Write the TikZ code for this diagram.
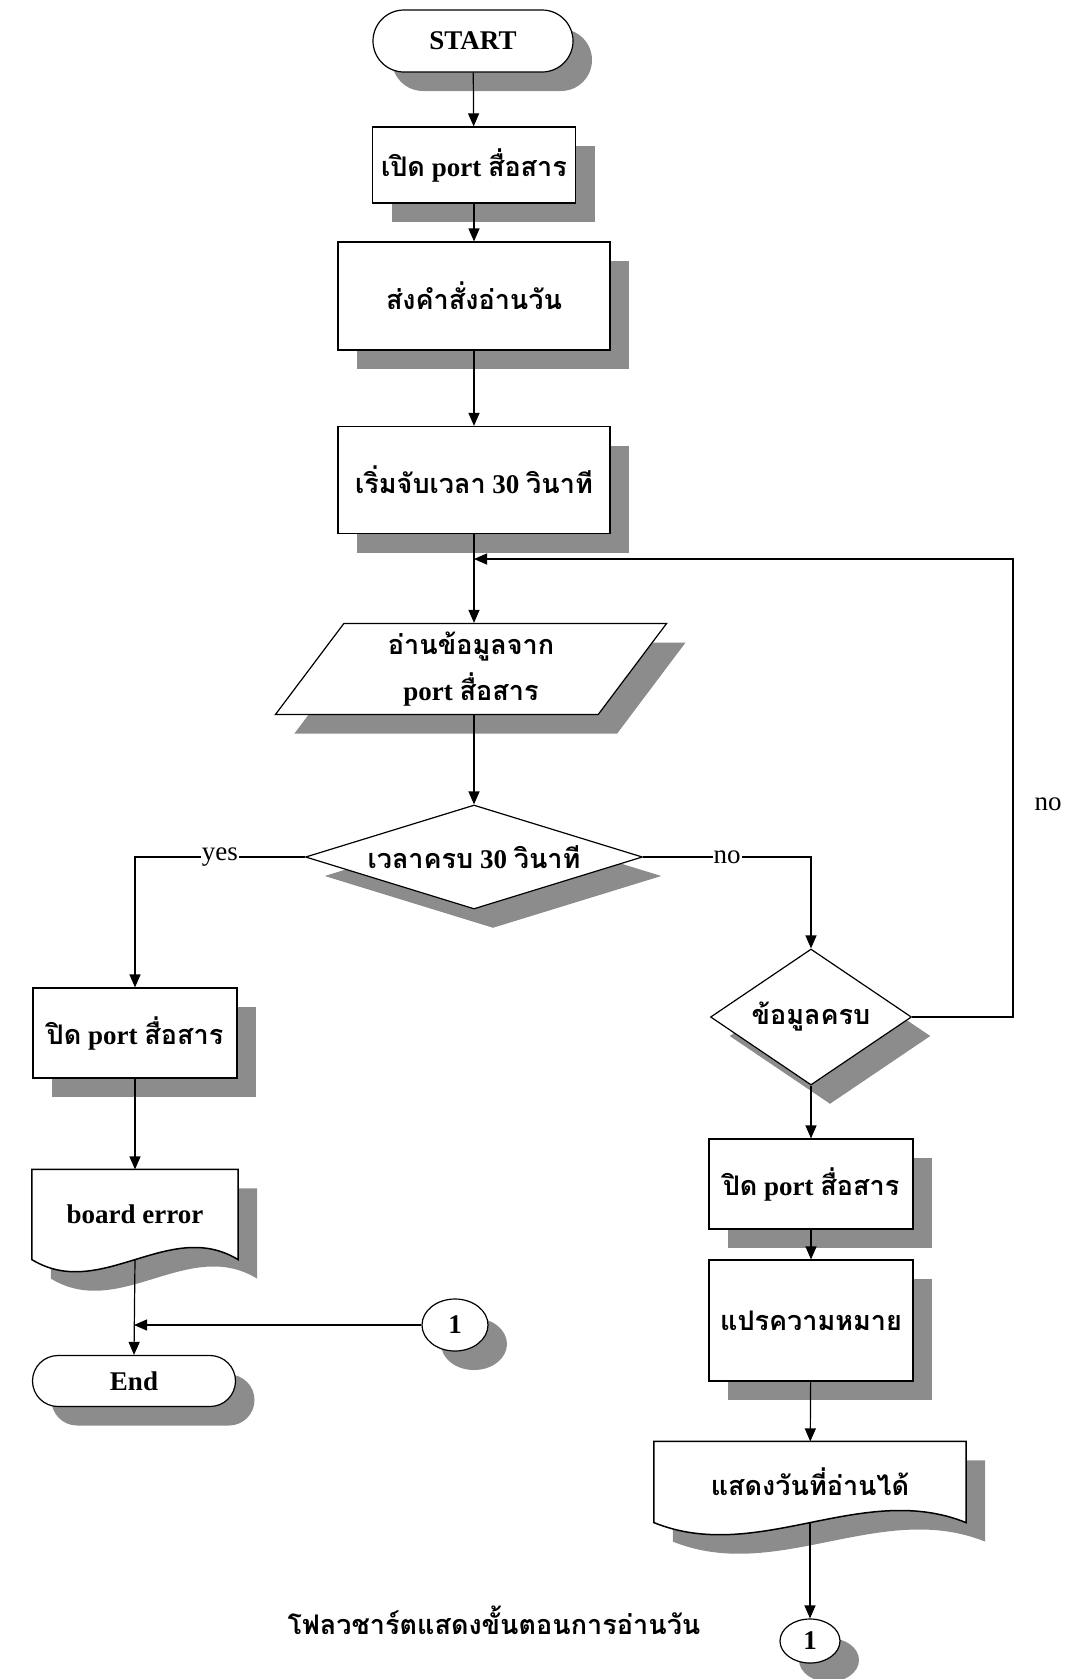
\documentclass[tikz,border=0pt]{standalone}
\usepackage{fontspec}
\setmainfont{Liberation Serif}
\newfontfamily\thaif[Script=Thai]{Loma}
\newcommand{\tha}[1]{{\thaif #1}}
\usetikzlibrary{shapes.geometric,shapes.misc,shadows,arrows.meta,calc}

% outline of a document symbol built on a node's box, shifted by (#2,#3)
\newcommand{\docpath}[3]{%
  ($(#1.north west)+(#2,#3)$) -- ($(#1.north east)+(#2,#3)$) -- ($(#1.south east)+(#2,#3)$)
  .. controls ($(#1.south east)!0.333!(#1.south west)+(#2,-42+#3)$)
  and ($(#1.south east)!0.667!(#1.south west)+(#2,42+#3)$)
  .. ($(#1.south west)+(#2,#3)$) -- cycle}

\begin{document}
\begin{tikzpicture}[x=1pt,y=-1pt,
  line width=1.2pt,
  txt/.style={font=\fontsize{27}{46}\selectfont\bfseries, align=center},
  lbl/.style={font=\fontsize{27}{32}\selectfont, fill=white, inner sep=1pt},
  shade/.style={general shadow={fill=black!45, shadow xshift=19pt, shadow yshift=-19pt}},
  proc/.style={txt, shade, draw, fill=white, rectangle, inner sep=0pt},
  term/.style={txt, shade, draw, fill=white, rounded rectangle, inner sep=0pt},
  iobox/.style={txt, shade, draw, fill=white, trapezium, trapezium left angle=59,
    trapezium right angle=121, trapezium stretches, inner sep=0pt},
  decide/.style={txt, shade, draw, fill=white, diamond, inner sep=0pt},
  conn/.style={txt, shade, draw, fill=white, ellipse, inner sep=0pt},
  docbox/.style={rectangle, inner sep=0pt},
  docline/.style={fill=white, line width=1.5pt},
  arr/.style={-{Triangle[length=13pt,width=11pt]}}
]
\useasboundingbox (0,0) rectangle (1065,1679);

% document symbols: frame first, label on top
\node[docbox, minimum width=205, minimum height=89] (err) at (135,1214.5) {};
\node[docbox, minimum width=311, minimum height=80] (disp) at (810,1482) {};
\fill[black!45] \docpath{err}{19}{19};
\filldraw[docline] \docpath{err}{0}{0};
\fill[black!45] \docpath{disp}{19}{19};
\filldraw[docline] \docpath{disp}{0}{0};
\node[txt] (errtext) at (err.center) {board error};
\node[txt] (disptext) at (disp.center) {\tha{แสดงวันที่อ่านได้}};

% main column
\node[term, minimum width=200, minimum height=62, text depth=0pt] (start) at (473,41) {START};
\node[proc, minimum width=203, minimum height=76] (b1) at (474,165) {\tha{เปิด} port \tha{สื่อสาร}};
\node[proc, minimum width=272, minimum height=108] (b2) at (474,296) {\tha{ส่งคำสั่งอ่านวัน}};
\node[proc, minimum width=272, minimum height=107] (b3) at (474,480) {\tha{เริ่มจับเวลา} 30 \tha{วินาที}};
\node[iobox, minimum width=392, minimum height=91] (rd) at (471,669) {\tha{อ่านข้อมูลจาก}\\port \tha{สื่อสาร}};
\node[decide, shape aspect=3.3, minimum width=337, minimum height=104] (d1) at (474,857) {\tha{เวลาครบ} 30 \tha{วินาที}};

% left branch
\node[proc, minimum width=204, minimum height=90] (cl) at (135,1033) {\tha{ปิด} port \tha{สื่อสาร}};
\node[term, minimum width=203, minimum height=51, text depth=0pt] (stop) at (134,1381) {End};
\node[conn, minimum width=66, minimum height=52] (c1) at (455,1325) {1};

% right branch
\node[decide, shape aspect=1.48, minimum width=201, minimum height=136] (d2) at (811,1017) {\tha{ข้อมูลครบ}};
\node[proc, minimum width=204, minimum height=90] (cr) at (811,1184) {\tha{ปิด} port \tha{สื่อสาร}};
\node[proc, minimum width=204, minimum height=121] (mean) at (811,1320.5) {\tha{แปรความหมาย}};
\node[conn, minimum width=60, minimum height=44] (c2) at (810,1641) {1};

\node[txt] (title) at (494,1620) {\tha{โฟลวชาร์ตแสดงขั้นตอนการอ่านวัน}};

% connectors
\coordinate (jn) at (474,559);
\coordinate (lx) at (1013,559);
\draw[arr] (start) -- (b1);
\draw[arr] (b1) -- (b2);
\draw[arr] (b2) -- (b3);
\draw[arr] (b3.south) -- (b3.south |- rd.north);
\draw[arr] (d2.east) -| (lx) -- (jn);
\node[lbl, fill=none] (noloop) at (1048,804) {no};
\draw[arr] (d1.north |- rd.south) -- (d1.north);
\draw[arr] (d1.west) -| node[lbl, pos=0.25] (yes) {yes} (cl.north);
\draw[arr] (d1.east) -| node[lbl, pos=0.25] (no) {no} (d2.north);
\draw[arr] (d2.south) -- (cr.north);
\draw[arr] (cr) -- (mean);
\draw[arr] (mean) -- (disp);
\draw[arr] (disp.south) -- (c2.north);
\draw[arr] (cl) -- (err);
\draw[arr] (err.south) -- (stop.north);
\draw[arr] (c1.west) -- (c1.west -| stop.north);
\end{tikzpicture}
\end{document}
